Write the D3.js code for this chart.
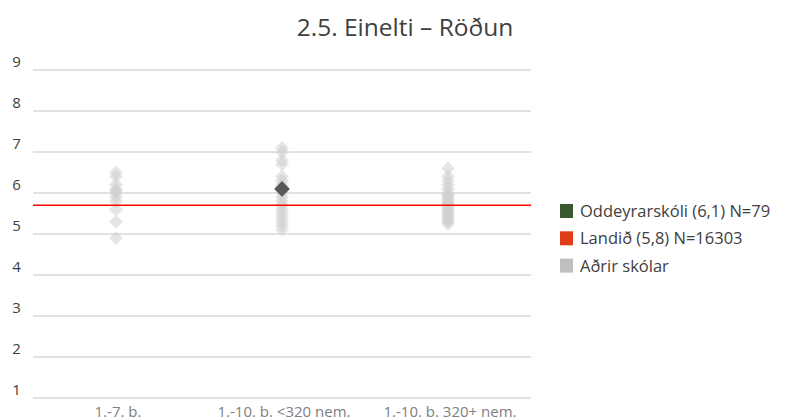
<!DOCTYPE html>
<html><head><meta charset="utf-8">
<script src="https://cdn.jsdelivr.net/npm/d3@7"></script>
<style>body{margin:0;background:#fff;}svg{font-family:"Open Sans",Lato,sans-serif;}</style>
</head><body>
<svg id="c" width="797" height="420"></svg>
<script>
const categories = ["1.-7. b.", "1.-10. b. <320 nem.", "1.-10. b. 320+ nem."];
const otherSchools = [
  [6.5, 6.4, 6.2, 6.1, 6.05, 6.0, 5.9, 5.8, 5.6, 5.3, 4.9],
  [7.1, 7.0, 6.8, 6.7, 6.4, 6.3, 6.2, 6.0, 5.9, 5.8, 5.7, 5.6, 5.5, 5.4, 5.3, 5.2, 5.1],
  [6.6, 6.4, 6.3, 6.2, 6.1, 6.0, 5.95, 5.9, 5.85, 5.8, 5.75, 5.7, 5.65, 5.6, 5.55, 5.5, 5.45, 5.4, 5.35, 5.3, 5.25]
];
const schoolCategory = "1.-10. b. <320 nem.";
const schoolValue = 6.1;
const nationalValue = 5.7;
const yTicks = [1,2,3,4,5,6,7,8,9];
const legendLabels = ["Oddeyrarskóli (6,1) N=79", "Landið (5,8) N=16303", "Aðrir skólar"];
const legendColors = ["#375a2e", "#e03c1a", "#bfbfbf"];

const svg = d3.select("#c");
const L = 33, R = 531, T = 70, B = 398;
const x = d3.scaleBand().domain(categories).range([L, R]);
const y = d3.scaleLinear().domain([1, 9]).range([B, T]);

// title
svg.append("text").attr("x", 405).attr("y", 36).attr("text-anchor", "middle")
  .attr("font-size", 24.5).attr("fill", "#404040").text("2.5. Einelti – Röðun");

// gridlines
svg.append("g").selectAll("line").data(yTicks).join("line")
  .attr("x1", L).attr("x2", R).attr("y1", d => y(d)).attr("y2", d => y(d))
  .attr("stroke", "#d9d9d9").attr("stroke-width", 1.3);

// y labels
svg.append("g").selectAll("text").data(yTicks).join("text")
  .attr("x", 16.5).attr("y", d => y(d) - 3).attr("text-anchor", "middle")
  .attr("font-size", 15).attr("fill", "#404040")
  .text(d => d);

// x labels
svg.append("g").selectAll("text").data(categories).join("text")
  .attr("x", d => x(d) + x.bandwidth()/2 + 2).attr("y", 417).attr("text-anchor", "middle")
  .attr("font-size", 15).attr("fill", "#808080").text(d => d);

// other schools
const pts = [];
otherSchools.forEach((arr, i) => arr.forEach(v => pts.push({c: categories[i], v})));
svg.append("g").selectAll("path").data(pts).join("path")
  .attr("d", d3.symbol().type(d3.symbolSquare).size(96))
  .attr("transform", d => `translate(${x(d.c) + x.bandwidth()/2},${y(d.v)}) rotate(45)`)
  .attr("fill", "#d0d0d0").attr("fill-opacity", 0.55);

// national line
svg.append("line").attr("x1", L).attr("x2", R)
  .attr("y1", y(nationalValue)).attr("y2", y(nationalValue))
  .attr("stroke", "#ff0000").attr("stroke-width", 1.6);

// school
svg.append("path").attr("d", d3.symbol().type(d3.symbolSquare).size(125))
  .attr("transform", `translate(${x(schoolCategory) + x.bandwidth()/2},${y(schoolValue)}) rotate(45)`)
  .attr("fill", "#595959");

// legend
const lg = svg.append("g").selectAll("g").data(legendLabels).join("g")
  .attr("transform", (d, i) => `translate(560,${211 + i*27.3})`);
lg.append("rect").attr("x", 0).attr("y", -7).attr("width", 13).attr("height", 14)
  .attr("fill", (d, i) => legendColors[i]);
lg.append("text").attr("x", 20).attr("y", 6).attr("font-size", 16.5).attr("fill", "#404040").text(d => d);
</script>
</body></html>
